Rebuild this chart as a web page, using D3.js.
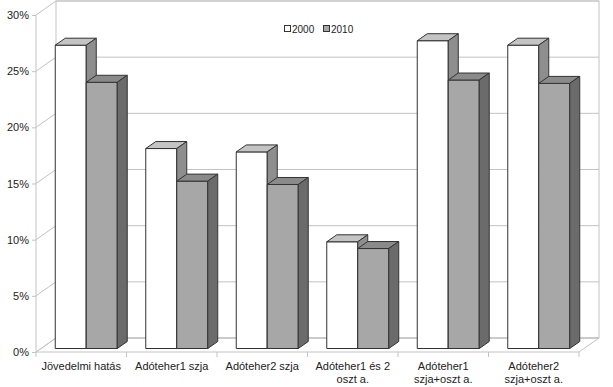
<!DOCTYPE html>
<html>
<head>
<meta charset="utf-8">
<script src="https://cdn.jsdelivr.net/npm/d3@7/dist/d3.min.js"></script>
<style>
  body { margin: 0; background: #fff; }
  text { font-family: "Liberation Sans", Arial, sans-serif; fill: #222; }
</style>
</head>
<body>
<div id="chart"></div>
<script>
(function(){

    const categories = [
        ["Jövedelmi hatás"],
        ["Adóteher1 szja"],
        ["Adóteher2 szja"],
        ["Adóteher1 és 2", "oszt a."],
        ["Adóteher1", "szja+oszt a."],
        ["Adóteher2", "szja+oszt a."]
    ];
    const seriesNames = ["2000", "2010"];
    const values2000 = [0.270, 0.178, 0.175, 0.095, 0.274, 0.270];
    const values2010 = [0.237, 0.149, 0.146, 0.089, 0.239, 0.236];
    const yTicks = [0, 0.05, 0.10, 0.15, 0.20, 0.25, 0.30];

    const width = 613, height = 387;

    // front plane
    const x0 = 36, x1 = 579, yBase = 352, yTop = 15;
    // depth of the whole wall and where the bars sit inside it
    const DX = 20, DY = -14;
    const barFront = 0.25, barBack = 0.75;

    const svg = d3.select("#chart").append("svg")
        .attr("width", width).attr("height", height);

    const x = d3.scaleBand().domain(d3.range(categories.length))
        .range([x0, x1]).padding(0);
    const xs = d3.scaleBand().domain(seriesNames)
        .range([0, x.bandwidth()]).paddingInner(0).paddingOuter(0.46);
    const y = d3.scaleLinear().domain([0, 0.30]).range([yBase, yTop]);

    const grid = "#c3c3c3";
    const g = svg.append("g");

    // back wall
    g.append("rect")
        .attr("x", x0 + DX).attr("y", y(0.30) + DY)
        .attr("width", x1 - x0).attr("height", y(0) - y(0.30))
        .attr("fill", "none").attr("stroke", grid);

    // gridlines: back wall + left side wall
    yTicks.forEach(t => {
        g.append("line")
            .attr("x1", x0 + DX).attr("x2", x1 + DX)
            .attr("y1", y(t) + DY).attr("y2", y(t) + DY)
            .attr("stroke", grid);
        g.append("line")
            .attr("x1", x0).attr("x2", x0 + DX)
            .attr("y1", y(t)).attr("y2", y(t) + DY)
            .attr("stroke", grid);
    });

    // left wall front edge
    g.append("line").attr("x1", x0).attr("x2", x0)
        .attr("y1", y(0.30)).attr("y2", y(0)).attr("stroke", grid);

    // floor
    g.append("path")
        .attr("d", `M${x0},${yBase}L${x1},${yBase}L${x1 + DX},${yBase + DY}L${x0 + DX},${yBase + DY}Z`)
        .attr("fill", "none").attr("stroke", grid);

    // category ticks under the floor
    d3.range(categories.length + 1).forEach(i => {
        const px = x0 + i * x.bandwidth();
        g.append("line").attr("x1", px).attr("x2", px)
            .attr("y1", yBase).attr("y2", yBase + 5).attr("stroke", grid);
    });

    // y axis labels
    const yAxis = svg.append("g")
        .attr("transform", `translate(${x0},0)`)
        .call(d3.axisLeft(y).tickValues(yTicks).tickSize(4).tickPadding(3)
            .tickFormat(d => Math.round(d * 100) + "%"));
    yAxis.select(".domain").remove();
    yAxis.selectAll(".tick line").attr("stroke", grid);
    yAxis.selectAll("text")
        .style("font-family", '"Liberation Sans", Arial, sans-serif')
        .style("font-size", "11px").attr("fill", "#222");

    // bars
    const bdx = DX * (barBack - barFront), bdy = DY * (barBack - barFront);
    const ox = DX * barFront, oy = DY * barFront;
    const styles = {
        "2000": { front: "#ffffff", top: "#c4c4c4", side: "#8e8e8e" },
        "2010": { front: "#a7a7a7", top: "#8a8a8a", side: "#6b6b6b" }
    };
    const series = [values2000, values2010];

    const bars = svg.append("g");
    categories.forEach((c, i) => {
        seriesNames.forEach((s, k) => {
            const v = series[k][i];
            const bx0 = x(i) + xs(s) + ox;
            const bx1 = bx0 + xs.bandwidth();
            const by0 = y(v) + oy;
            const by1 = y(0) + oy;
            const st = styles[s];
            const bg = bars.append("g")
                .attr("stroke", "#333").attr("stroke-width", 1)
                .attr("stroke-linejoin", "round");
            bg.append("rect")
                .attr("x", bx0).attr("y", by0)
                .attr("width", bx1 - bx0).attr("height", by1 - by0)
                .attr("fill", st.front);
            bg.append("path")
                .attr("d", `M${bx0},${by0}L${bx0 + bdx},${by0 + bdy}L${bx1 + bdx},${by0 + bdy}L${bx1},${by0}Z`)
                .attr("fill", st.top);
            bg.append("path")
                .attr("d", `M${bx1},${by0}L${bx1 + bdx},${by0 + bdy}L${bx1 + bdx},${by1 + bdy}L${bx1},${by1}Z`)
                .attr("fill", st.side);
        });
    });

    // category labels
    categories.forEach((lines, i) => {
        const t = svg.append("text")
            .attr("x", x(i) + x.bandwidth() / 2)
            .attr("y", 370)
            .attr("text-anchor", "middle")
            .style("font-size", "11px");
        lines.forEach((l, j) => {
            t.append("tspan").attr("x", x(i) + x.bandwidth() / 2)
                .attr("dy", j === 0 ? 0 : 13).text(l);
        });
    });

    // legend
    const legend = svg.append("g").attr("transform", "translate(284,25)");
    seriesNames.forEach((s, k) => {
        const lg = legend.append("g").attr("transform", `translate(${k * 39},0)`);
        lg.append("rect").attr("x", 0.5).attr("y", 0.5).attr("width", 6).attr("height", 6)
            .attr("fill", styles[s].front).attr("stroke", "#333");
        lg.append("text").attr("x", 8).attr("y", 7.5)
            .style("font-size", "10px").text(s);
    });

})();
</script>
</body>
</html>
